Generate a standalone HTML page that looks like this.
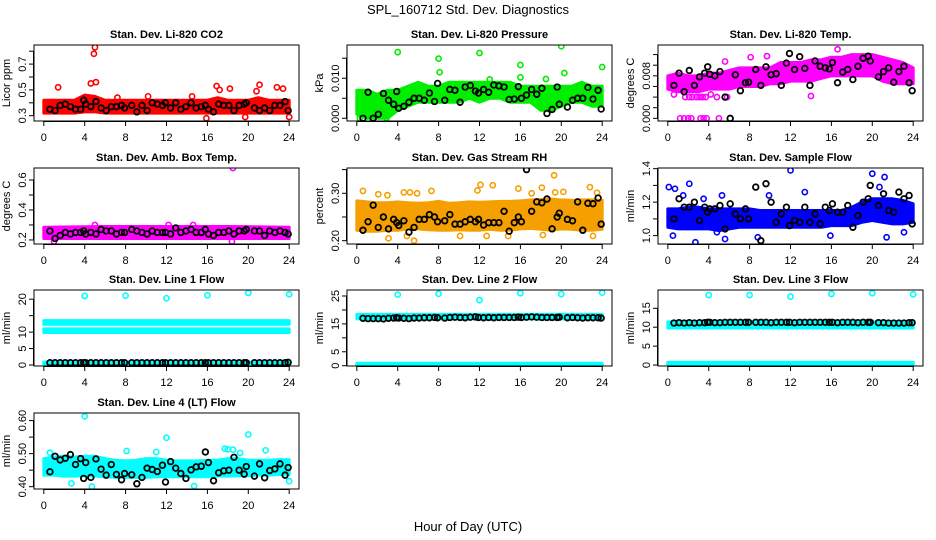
<!DOCTYPE html>
<html><head><meta charset="utf-8">
<style>
html,body{margin:0;padding:0;background:#fff;}
svg{display:block;font-family:"Liberation Sans",sans-serif;}
</style></head>
<body>
<svg id="chart" width="936" height="540" viewBox="0 0 936 540" xmlns="http://www.w3.org/2000/svg">
<rect x="0" y="0" width="936" height="540" fill="#fff"/>
<text x="468" y="14" text-anchor="middle" font-size="13">SPL_160712  Std. Dev. Diagnostics</text>
<text x="468" y="531" text-anchor="middle" font-size="13">Hour of Day (UTC)</text>
</svg>
<script>
// ---- shared data ----
const xTicks = [0,4,8,12,16,20,24];
const bandHours = [0,1,2,3,4,5,6,7,8,9,10,11,12,13,14,15,16,17,18,19,20,21,22,23,24];
const flatHours = [0,24];
const blackHours = [0.6,1.1,1.6,2.1,2.6,3.1,3.6,3.9,4.1,4.6,5.1,5.6,6.1,6.6,7.1,7.6,7.9,8.6,9.1,9.6,10.1,10.6,11.1,11.6,11.9,12.4,12.9,13.4,13.9,14.4,14.9,15.4,15.8,16.1,16.6,17.1,17.6,18.1,18.6,19.1,19.6,19.8,20.6,21.1,21.6,22.1,22.6,23.1,23.6,23.9];

// ---- panel 1: CO2 ----
const co2Low = [0.32,0.32,0.32,0.32,0.33,0.33,0.32,0.32,0.32,0.32,0.32,0.32,0.32,0.32,0.32,0.32,0.32,0.32,0.32,0.32,0.32,0.32,0.32,0.32,0.32];
const co2High = [0.42,0.42,0.42,0.42,0.46,0.45,0.42,0.42,0.42,0.42,0.42,0.42,0.42,0.42,0.42,0.42,0.42,0.44,0.42,0.42,0.42,0.44,0.42,0.42,0.42];
const co2OutX = [4.9,5.0,1.4,4.6,5.1,7.2,10.2,14.5,16.9,17.2,18.2,20.8,21.1,22.8,23.4,15.9,19.7,24.0];
const co2OutY = [0.78,0.83,0.52,0.55,0.56,0.44,0.45,0.45,0.53,0.50,0.51,0.49,0.54,0.52,0.51,0.28,0.29,0.29];
const co2Black = [0.35,0.34,0.38,0.39,0.37,0.35,0.35,0.42,0.39,0.37,0.41,0.36,0.34,0.37,0.37,0.38,0.36,0.38,0.33,0.38,0.34,0.40,0.39,0.38,0.40,0.36,0.40,0.35,0.37,0.40,0.36,0.37,0.38,0.35,0.33,0.39,0.38,0.38,0.34,0.38,0.39,0.40,0.36,0.34,0.36,0.34,0.38,0.38,0.41,0.34];

// ---- panel 2: Pressure ----
const prLow = [0.001,0.000,0.000,0.000,0.002,0.003,0.004,0.004,0.004,0.004,0.004,0.005,0.004,0.005,0.005,0.004,0.004,0.004,0.002,0.002,0.003,0.004,0.004,0.003,0.003];
const prHigh = [0.007,0.007,0.006,0.007,0.007,0.008,0.009,0.008,0.008,0.009,0.009,0.009,0.009,0.009,0.009,0.009,0.008,0.008,0.008,0.008,0.008,0.008,0.009,0.008,0.008];
const prOutX = [4.0,8.0,8.1,12.0,16.0,16.0,20.0,20.3,24.0,18.5,13.0,0.3,2.9];
const prOutY = [0.0165,0.0149,0.0115,0.0163,0.0133,0.0102,0.0180,0.0113,0.0128,0.0098,0.0097,0.0000,0.0000];
const prBlack = [0.000,0.0065,0.000,0.001,0.0062,0.0045,0.0035,0.0067,0.0025,0.003,0.004,0.005,0.005,0.0045,0.0063,0.0042,0.0087,0.0045,0.0072,0.007,0.004,0.0078,0.0082,0.0068,0.0063,0.0072,0.0065,0.0083,0.0081,0.0078,0.0047,0.0048,0.0079,0.005,0.0058,0.0072,0.006,0.0075,0.0012,0.0022,0.0078,0.0035,0.0028,0.0045,0.005,0.005,0.0077,0.0048,0.007,0.0023];

// ---- panel 3: Li-820 Temp ----
const tpLow = [0.0055,0.005,0.005,0.005,0.0055,0.0055,0.0055,0.006,0.006,0.006,0.0065,0.0065,0.007,0.007,0.007,0.0075,0.008,0.008,0.008,0.008,0.008,0.007,0.0065,0.0065,0.0065];
const tpHigh = [0.008,0.0085,0.008,0.008,0.0085,0.0085,0.009,0.0095,0.0095,0.0095,0.0095,0.0105,0.0105,0.0105,0.011,0.011,0.0115,0.0115,0.012,0.012,0.012,0.0115,0.011,0.0105,0.0095];
const tpOutX = [1.2,1.6,2.0,2.3,3.2,3.5,3.8,5.0,1.7,2.1,2.4,2.8,3.1,3.4,3.7,4.8,5.8,0.6,4.2,14.0,16.6,8.1,9.7,5.6];
const tpOutY = [0,0,0,0,0,0,0,0,0.004,0.004,0.004,0.004,0.004,0.004,0.004,0.004,0.004,0.0045,0.0045,0.0042,0.013,0.0115,0.0117,0.0107];
const tpBlack = [0.0062,0.0085,0.005,0.009,0.0062,0.0078,0.0085,0.0097,0.0083,0.008,0.0088,0.004,0.000,0.0082,0.0052,0.0067,0.0068,0.0092,0.0062,0.0097,0.0082,0.0084,0.0062,0.0104,0.0122,0.0092,0.0116,0.0094,0.0062,0.0108,0.0098,0.0095,0.0093,0.0105,0.0067,0.0087,0.0092,0.0073,0.0098,0.0113,0.0117,0.0108,0.0078,0.0088,0.0095,0.0068,0.0088,0.0098,0.0067,0.0052];

// ---- panel 4: Amb Box Temp ----
const abLow = [0.21,0.21,0.21,0.21,0.21];
const abHigh = [0.285,0.29,0.29,0.29,0.285];
const abHours = [0,6,12,18,24];
const abOutX = [18.5,18.4,1.0,5.0,14.6,12.2];
const abOutY = [0.68,0.19,0.19,0.30,0.30,0.30];
const abBlack = [0.26,0.21,0.23,0.25,0.24,0.25,0.25,0.26,0.24,0.25,0.24,0.27,0.26,0.26,0.24,0.25,0.25,0.27,0.26,0.25,0.24,0.26,0.25,0.25,0.25,0.24,0.28,0.25,0.26,0.27,0.25,0.25,0.27,0.24,0.23,0.25,0.25,0.26,0.24,0.26,0.26,0.27,0.26,0.26,0.23,0.26,0.25,0.26,0.25,0.24];

// ---- panel 5: Gas Stream RH ----
const rhLow = [0.222,0.220,0.220,0.222,0.222,0.225,0.225,0.223,0.222,0.222,0.223,0.222,0.222,0.224,0.222,0.222,0.225,0.226,0.224,0.222,0.225,0.224,0.222,0.222,0.224];
const rhHigh = [0.284,0.282,0.280,0.280,0.282,0.280,0.279,0.280,0.283,0.279,0.280,0.282,0.281,0.282,0.283,0.283,0.284,0.286,0.287,0.288,0.286,0.285,0.286,0.286,0.285];
const rhOutX = [0.6,2.1,3.0,4.6,5.2,5.6,5.9,7.3,11.8,12.1,13.3,15.8,17.1,18.1,19.3,19.4,20.2,22.8,23.5,23.1,3.1,4.9,10.1,14.8,12.7,18.2];
const rhOutY = [0.305,0.298,0.296,0.302,0.302,0.200,0.300,0.305,0.306,0.318,0.317,0.310,0.300,0.312,0.338,0.302,0.303,0.313,0.301,0.210,0.205,0.210,0.210,0.210,0.210,0.212];
const rhBlack = [0.222,0.240,0.275,0.228,0.250,0.225,0.245,0.238,0.232,0.242,0.218,0.228,0.245,0.245,0.255,0.250,0.240,0.242,0.255,0.235,0.235,0.240,0.245,0.240,0.245,0.233,0.238,0.238,0.238,0.262,0.220,0.238,0.250,0.240,0.350,0.262,0.282,0.280,0.288,0.225,0.250,0.258,0.245,0.242,0.282,0.222,0.279,0.278,0.290,0.235];

// ---- panel 6: Sample Flow ----
const sfLow = [1.05,1.04,1.04,1.04,1.04,1.03,1.04,1.05,1.05,1.05,1.05,1.05,1.05,1.05,1.05,1.05,1.06,1.06,1.06,1.08,1.09,1.08,1.07,1.07,1.08];
const sfHigh = [1.16,1.16,1.17,1.17,1.16,1.16,1.16,1.16,1.16,1.15,1.15,1.15,1.15,1.15,1.15,1.15,1.15,1.15,1.17,1.20,1.22,1.22,1.22,1.21,1.19];
const sfOutX = [0.1,0.7,2.1,1.5,3.5,5.3,2.7,0.5,5.6,9.9,12.0,13.4,20.0,21.2,20.7,23.1,21.4,15.9,8.8,4.8];
const sfOutY = [1.29,1.28,1.31,1.24,1.22,1.24,0.96,1.00,0.98,1.24,1.39,1.26,1.37,1.35,1.29,1.02,0.99,1.00,0.99,1.02];
const sfBlack = [1.10,1.22,1.17,1.17,1.20,1.09,1.17,1.14,1.16,1.16,1.18,1.04,1.19,1.13,1.10,1.16,1.10,1.29,0.97,1.31,1.20,1.08,1.13,1.17,1.06,1.09,1.08,1.17,1.08,1.13,1.07,1.17,1.15,1.19,1.14,1.14,1.18,1.05,1.12,1.20,1.22,1.30,1.18,1.25,1.15,1.14,1.26,1.22,1.24,1.07];

// ---- panel 7: Line 1 Flow ----
const l1LowA = [9.9,9.9]; const l1HighA = [11.0,11.0];
const l1LowB = [12.4,12.4]; const l1HighB = [13.5,13.5];
const l1LowC = [0.3,0.3]; const l1HighC = [0.9,0.9];
const l1OutX = [4,8,12,16,20,24];
const l1OutY = [21.0,21.1,20.3,21.2,21.9,21.5];
const l1Black = [0.7,0.7,0.7,0.7,0.7,0.7,0.7,0.7,0.7,0.7,0.7,0.7,0.7,0.7,0.7,0.7,0.7,0.7,0.7,0.7,0.7,0.7,0.7,0.7,0.7,0.7,0.7,0.7,0.7,0.7,0.7,0.7,0.7,0.7,0.7,0.7,0.7,0.7,0.7,0.7,0.7,0.7,0.7,0.7,0.7,0.7,0.7,0.7,0.7,0.8];

// ---- panel 8: Line 2 Flow ----
const l2LowA = [16.8,16.8]; const l2HighA = [18.4,18.4];
const l2LowC = [0.2,0.2]; const l2HighC = [0.9,0.9];
const l2OutX = [4,8,12,16,20,24];
const l2OutY = [25.5,25.8,23.5,26.0,25.7,26.2];
const l2Black = [17.0,16.9,16.9,16.9,16.8,17.0,17.1,17.2,17.1,17.0,16.9,17.1,17.1,17.2,17.2,17.3,17.2,17.1,17.3,17.4,17.3,17.2,17.4,17.5,17.3,17.2,17.3,17.2,17.3,17.3,17.3,17.3,17.4,17.3,17.4,17.5,17.4,17.3,17.3,17.3,17.3,17.4,17.2,17.3,17.2,17.1,17.2,17.2,17.2,17.1];

// ---- panel 9: Line 3 Flow ----
const l3LowA = [9.8,9.8]; const l3HighA = [11.4,11.4];
const l3LowC = [0.1,0.1]; const l3HighC = [0.7,0.7];
const l3OutX = [4,8,12,16,20,24];
const l3OutY = [18.5,18.5,18.1,18.8,19.0,18.7];
const l3Black = [11.1,11.2,11.1,11.2,11.1,11.2,11.2,11.3,11.3,11.2,11.2,11.3,11.3,11.3,11.3,11.3,11.3,11.3,11.3,11.3,11.2,11.3,11.3,11.3,11.3,11.2,11.3,11.3,11.3,11.3,11.3,11.3,11.3,11.3,11.2,11.3,11.3,11.3,11.2,11.3,11.3,11.3,11.2,11.2,11.1,11.1,11.1,11.1,11.2,11.2];

// ---- panel 10: Line 4 (LT) Flow ----
const l4Low = [0.435,0.435,0.432,0.432,0.433,0.432,0.430,0.428,0.428,0.428,0.428,0.430,0.430,0.430,0.430,0.430,0.430,0.432,0.432,0.433,0.433,0.435,0.435,0.437,0.437];
const l4High = [0.485,0.490,0.492,0.490,0.492,0.492,0.485,0.480,0.478,0.480,0.485,0.485,0.480,0.478,0.478,0.478,0.480,0.480,0.485,0.485,0.480,0.480,0.480,0.482,0.482];
const l4OutX = [4,12,20,0.6,4.7,8.1,17.7,18,21.7,11,24,14.7,2.7,18.5,19.2];
const l4OutY = [0.613,0.548,0.558,0.503,0.400,0.508,0.515,0.513,0.510,0.505,0.417,0.402,0.410,0.512,0.502];
const l4Black = [0.445,0.492,0.481,0.486,0.497,0.467,0.485,0.425,0.473,0.428,0.484,0.453,0.435,0.467,0.437,0.421,0.440,0.436,0.409,0.428,0.456,0.452,0.446,0.465,0.414,0.476,0.456,0.440,0.425,0.451,0.460,0.462,0.505,0.473,0.418,0.442,0.448,0.450,0.489,0.450,0.438,0.461,0.432,0.469,0.427,0.449,0.454,0.469,0.435,0.458];

const NS = "http://www.w3.org/2000/svg";
const svg = document.getElementById('chart');
function mk(tag, attrs, parent){
  const e = document.createElementNS(NS, tag);
  for (const k in attrs) e.setAttribute(k, attrs[k]);
  (parent||svg).appendChild(e);
  return e;
}
const colLeft = [34,347,658], rowTop = [45,168,290,413], W = 265, H = 76;

const panels = [
 {key:'co2', title:'Stan. Dev. Li-820 CO2', ylab:'Licor ppm', col:0,row:0, ymin:0.259,ymax:0.848, ticks:[0.3,0.4,0.5,0.6,0.7,0.8], tickLabels:['0.3','','0.5','','0.7',''], color:'#ff0000', bands:[[bandHours,co2Low,co2High]], outX:co2OutX,outY:co2OutY, black:co2Black},
 {key:'pressure', title:'Stan. Dev. Li-820 Pressure', ylab:'kPa', col:1,row:0, ymin:-0.00068,ymax:0.0183, ticks:[0,0.005,0.010,0.015], tickLabels:['0.000','','0.010',''], color:'#00ee00', bands:[[bandHours,prLow,prHigh]], outX:prOutX,outY:prOutY, black:prBlack},
 {key:'li820-temp', title:'Stan. Dev. Li-820 Temp.', ylab:'degrees C', col:2,row:0, ymin:-0.0005,ymax:0.0138, ticks:[0,0.002,0.004,0.006,0.008,0.010,0.012], tickLabels:['0.000','','','','0.008','',''], color:'#ff00ff', bands:[[bandHours,tpLow,tpHigh]], outX:tpOutX,outY:tpOutY, black:tpBlack},
 {key:'amb-box-temp', title:'Stan. Dev. Amb. Box Temp.', ylab:'degrees C', col:0,row:1, ymin:0.173,ymax:0.68, ticks:[0.2,0.3,0.4,0.5,0.6], tickLabels:['0.2','','0.4','','0.6'], color:'#ff00ff', bands:[[abHours,abLow,abHigh]], outX:abOutX,outY:abOutY, black:abBlack},
 {key:'gas-rh', title:'Stan. Dev. Gas Stream RH', ylab:'percent', col:1,row:1, ymin:0.193,ymax:0.3534, ticks:[0.20,0.25,0.30,0.35], tickLabels:['0.20','','0.30',''], color:'#f5a000', bands:[[bandHours,rhLow,rhHigh]], outX:rhOutX,outY:rhOutY, black:rhBlack},
 {key:'sample-flow', title:'Stan. Dev. Sample Flow', ylab:'ml/min', col:2,row:1, ymin:0.95,ymax:1.404, ticks:[1.0,1.1,1.2,1.3,1.4], tickLabels:['1.0','','1.2','','1.4'], color:'#0000ff', bands:[[bandHours,sfLow,sfHigh]], outX:sfOutX,outY:sfOutY, black:sfBlack},
 {key:'line1-flow', title:'Stan. Dev. Line 1 Flow', ylab:'ml/min', col:0,row:2, ymin:-0.3,ymax:22.8, ticks:[0,5,10,15,20], tickLabels:['0','5','10','','20'], color:'#00ffff', bands:[[flatHours,l1LowA,l1HighA],[flatHours,l1LowB,l1HighB],[flatHours,l1LowC,l1HighC]], outX:l1OutX,outY:l1OutY, black:l1Black},
 {key:'line2-flow', title:'Stan. Dev. Line 2 Flow', ylab:'ml/min', col:1,row:2, ymin:-0.1,ymax:27.15, ticks:[0,5,10,15,20,25], tickLabels:['0','5','','15','','25'], color:'#00ffff', bands:[[flatHours,l2LowA,l2HighA],[flatHours,l2LowC,l2HighC]], outX:l2OutX,outY:l2OutY, black:l2Black},
 {key:'line3-flow', title:'Stan. Dev. Line 3 Flow', ylab:'ml/min', col:2,row:2, ymin:-0.26,ymax:19.84, ticks:[0,5,10,15], tickLabels:['0','5','10','15'], color:'#00ffff', bands:[[flatHours,l3LowA,l3HighA],[flatHours,l3LowC,l3HighC]], outX:l3OutX,outY:l3OutY, black:l3Black},
 {key:'line4-flow', title:'Stan. Dev. Line 4 (LT) Flow', ylab:'ml/min', col:0,row:3, ymin:0.393,ymax:0.623, ticks:[0.40,0.45,0.50,0.55,0.60], tickLabels:['0.40','','0.50','','0.60'], color:'#00ffff', bands:[[bandHours,l4Low,l4High]], outX:l4OutX,outY:l4OutY, black:l4Black}
];

panels.forEach(p => {
  const L = colLeft[p.col], T = rowTop[p.row];
  const g = mk('g', {});
  
  
  const xs = h => L + W*(h + 0.96)/25.92;
  const ys = v => T + H - H*(v - p.ymin)/(p.ymax - p.ymin);

  const t = mk('text', {x:L+W/2, y:T-7, 'text-anchor':'middle', 'font-size':'11', 'font-weight':'bold'}, g);
  t.textContent = p.title;
  
  

  const yl = mk('text', {x:0, y:0, 'text-anchor':'middle', 'font-size':'11', transform:`translate(${L-24},${T+H/2}) rotate(-90)`}, g);
  yl.textContent = p.ylab;
  
  

  const cid = 'clip-' + p.key;
  const cp = mk('clipPath', {id:cid}, g);
  mk('rect', {x:L, y:T, width:W, height:H}, cp);
  const dl = mk('g', {'clip-path':`url(#${cid})`}, g);

  p.bands.forEach(b => {
    const [hs, lo, hi] = b;
    let pts = [];
    for (let i=0;i<hs.length;i++) pts.push(xs(hs[i])+','+ys(hi[i]));
    for (let i=hs.length-1;i>=0;i--) pts.push(xs(hs[i])+','+ys(lo[i]));
    const poly = mk('polygon', {points:pts.join(' '), fill:p.color, stroke:p.color, 'stroke-width':'3', 'stroke-linejoin':'round'}, dl);
    
    
  });
  for (let i=0;i<Math.min(p.outX.length,p.outY.length);i++){
    const c = mk('circle', {cx:xs(p.outX[i]), cy:ys(p.outY[i]), r:2.6, fill:'none', stroke:p.color, 'stroke-width':'1.6'}, dl);
    
    
  }
  for (let i=0;i<Math.min(blackHours.length,p.black.length);i++){
    const c = mk('circle', {cx:xs(blackHours[i]), cy:ys(p.black[i]), r:2.8, fill:'none', stroke:'#000', 'stroke-width':'1.8'}, dl);
    
    
  }

  const box = mk('rect', {x:L, y:T, width:W, height:H, fill:'none', stroke:'#000', 'stroke-width':'1'}, g);
  
  

  const xa = mk('g', {}, g);
  
  
  mk('line', {x1:xs(xTicks[0]), x2:xs(xTicks[xTicks.length-1]), y1:T+H+0.5, y2:T+H+0.5, stroke:'#000'}, xa);
  xTicks.forEach(v => {
    mk('line', {x1:xs(v), x2:xs(v), y1:T+H, y2:T+H+5, stroke:'#000'}, xa);
    const tl = mk('text', {x:xs(v), y:T+H+20, 'text-anchor':'middle', 'font-size':'11'}, xa);
    tl.textContent = String(v);
    
    
  });
  const ya = mk('g', {}, g);
  
  
  mk('line', {x1:L-0.5, x2:L-0.5, y1:ys(p.ticks[0]), y2:ys(p.ticks[p.ticks.length-1]), stroke:'#000'}, ya);
  p.ticks.forEach((v,i) => {
    mk('line', {x1:L-5, x2:L, y1:ys(v), y2:ys(v), stroke:'#000'}, ya);
    if (p.tickLabels[i]) {
      const tl = mk('text', {x:0, y:0, 'text-anchor':'middle', 'font-size':'11', transform:`translate(${L-8},${ys(v)}) rotate(-90)`}, ya);
      tl.textContent = p.tickLabels[i];
      
      
    }
  });
});
</script>
</body></html>
